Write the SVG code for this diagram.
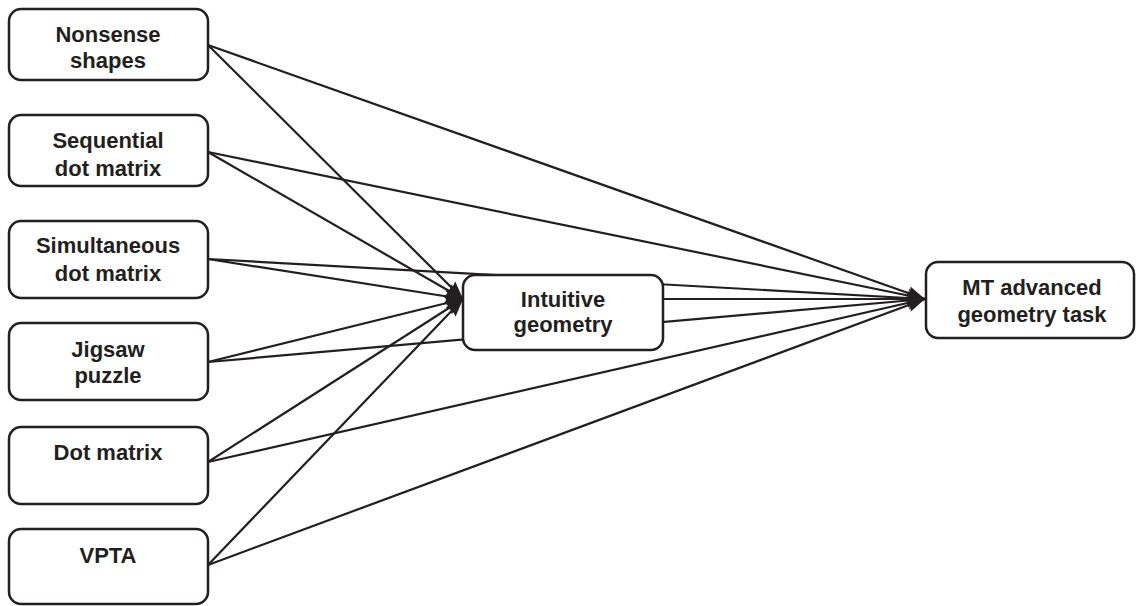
<svg xmlns="http://www.w3.org/2000/svg" width="1136" height="606" viewBox="0 0 1136 606">
<style>
.box{fill:#fff;stroke:#231f20;stroke-width:2.5}
.lbl{font-family:"Liberation Sans",Arial,sans-serif;font-weight:bold;font-size:22px;fill:#231f20;text-anchor:middle}
.edge{stroke:#231f20;stroke-width:2.2;fill:none;marker-end:url(#ah)}
</style>
<defs>
<marker id="ah" markerUnits="userSpaceOnUse" markerWidth="20" markerHeight="16" refX="18" refY="8" orient="auto">
<path d="M0,1 Q4,8 0,15 L18,8 Z" fill="#231f20"/>
</marker>
</defs>
<rect width="1136" height="606" fill="#fff"/>
<g id="connectors">
<line class="edge" x1="208" y1="45" x2="463" y2="299"/>
<line class="edge" x1="208" y1="45" x2="925" y2="299"/>
<line class="edge" x1="208" y1="152" x2="463" y2="299"/>
<line class="edge" x1="208" y1="152" x2="925" y2="299"/>
<line class="edge" x1="208" y1="259" x2="463" y2="299"/>
<line class="edge" x1="208" y1="259" x2="925" y2="299"/>
<line class="edge" x1="208" y1="362" x2="463" y2="299"/>
<line class="edge" x1="208" y1="362" x2="925" y2="299"/>
<line class="edge" x1="208" y1="462" x2="463" y2="299"/>
<line class="edge" x1="208" y1="462" x2="925" y2="299"/>
<line class="edge" x1="208" y1="565" x2="463" y2="299"/>
<line class="edge" x1="208" y1="565" x2="925" y2="299"/>
<line class="edge" x1="663" y1="299" x2="925" y2="299"/>
</g>
<g id="nonsense-shapes">
<rect class="box" x="9" y="9" width="199" height="71" rx="12"/>
<text class="lbl" x="108" y="42">Nonsense</text>
<text class="lbl" x="108" y="68">shapes</text>
</g>
<g id="sequential-dot-matrix">
<rect class="box" x="9" y="115" width="199" height="71" rx="12"/>
<text class="lbl" x="108" y="148">Sequential</text>
<text class="lbl" x="108" y="176">dot matrix</text>
</g>
<g id="simultaneous-dot-matrix">
<rect class="box" x="9" y="221" width="199" height="77" rx="12"/>
<text class="lbl" x="108" y="253">Simultaneous</text>
<text class="lbl" x="108" y="281">dot matrix</text>
</g>
<g id="jigsaw-puzzle">
<rect class="box" x="9" y="323" width="199" height="77" rx="12"/>
<text class="lbl" x="108" y="357">Jigsaw</text>
<text class="lbl" x="108" y="383">puzzle</text>
</g>
<g id="dot-matrix">
<rect class="box" x="9" y="427" width="199" height="77" rx="12"/>
<text class="lbl" x="108" y="460">Dot matrix</text>
</g>
<g id="vpta">
<rect class="box" x="9" y="529" width="199" height="75" rx="12"/>
<text class="lbl" x="108" y="563">VPTA</text>
</g>
<g id="intuitive-geometry">
<rect class="box" x="463" y="275" width="200" height="75" rx="12"/>
<text class="lbl" x="563" y="307">Intuitive</text>
<text class="lbl" x="563" y="332">geometry</text>
</g>
<g id="mt-advanced-geometry-task">
<rect class="box" x="926" y="262" width="208" height="76" rx="12"/>
<text class="lbl" x="1032" y="295">MT advanced</text>
<text class="lbl" x="1032" y="322">geometry task</text>
</g>
</svg>
